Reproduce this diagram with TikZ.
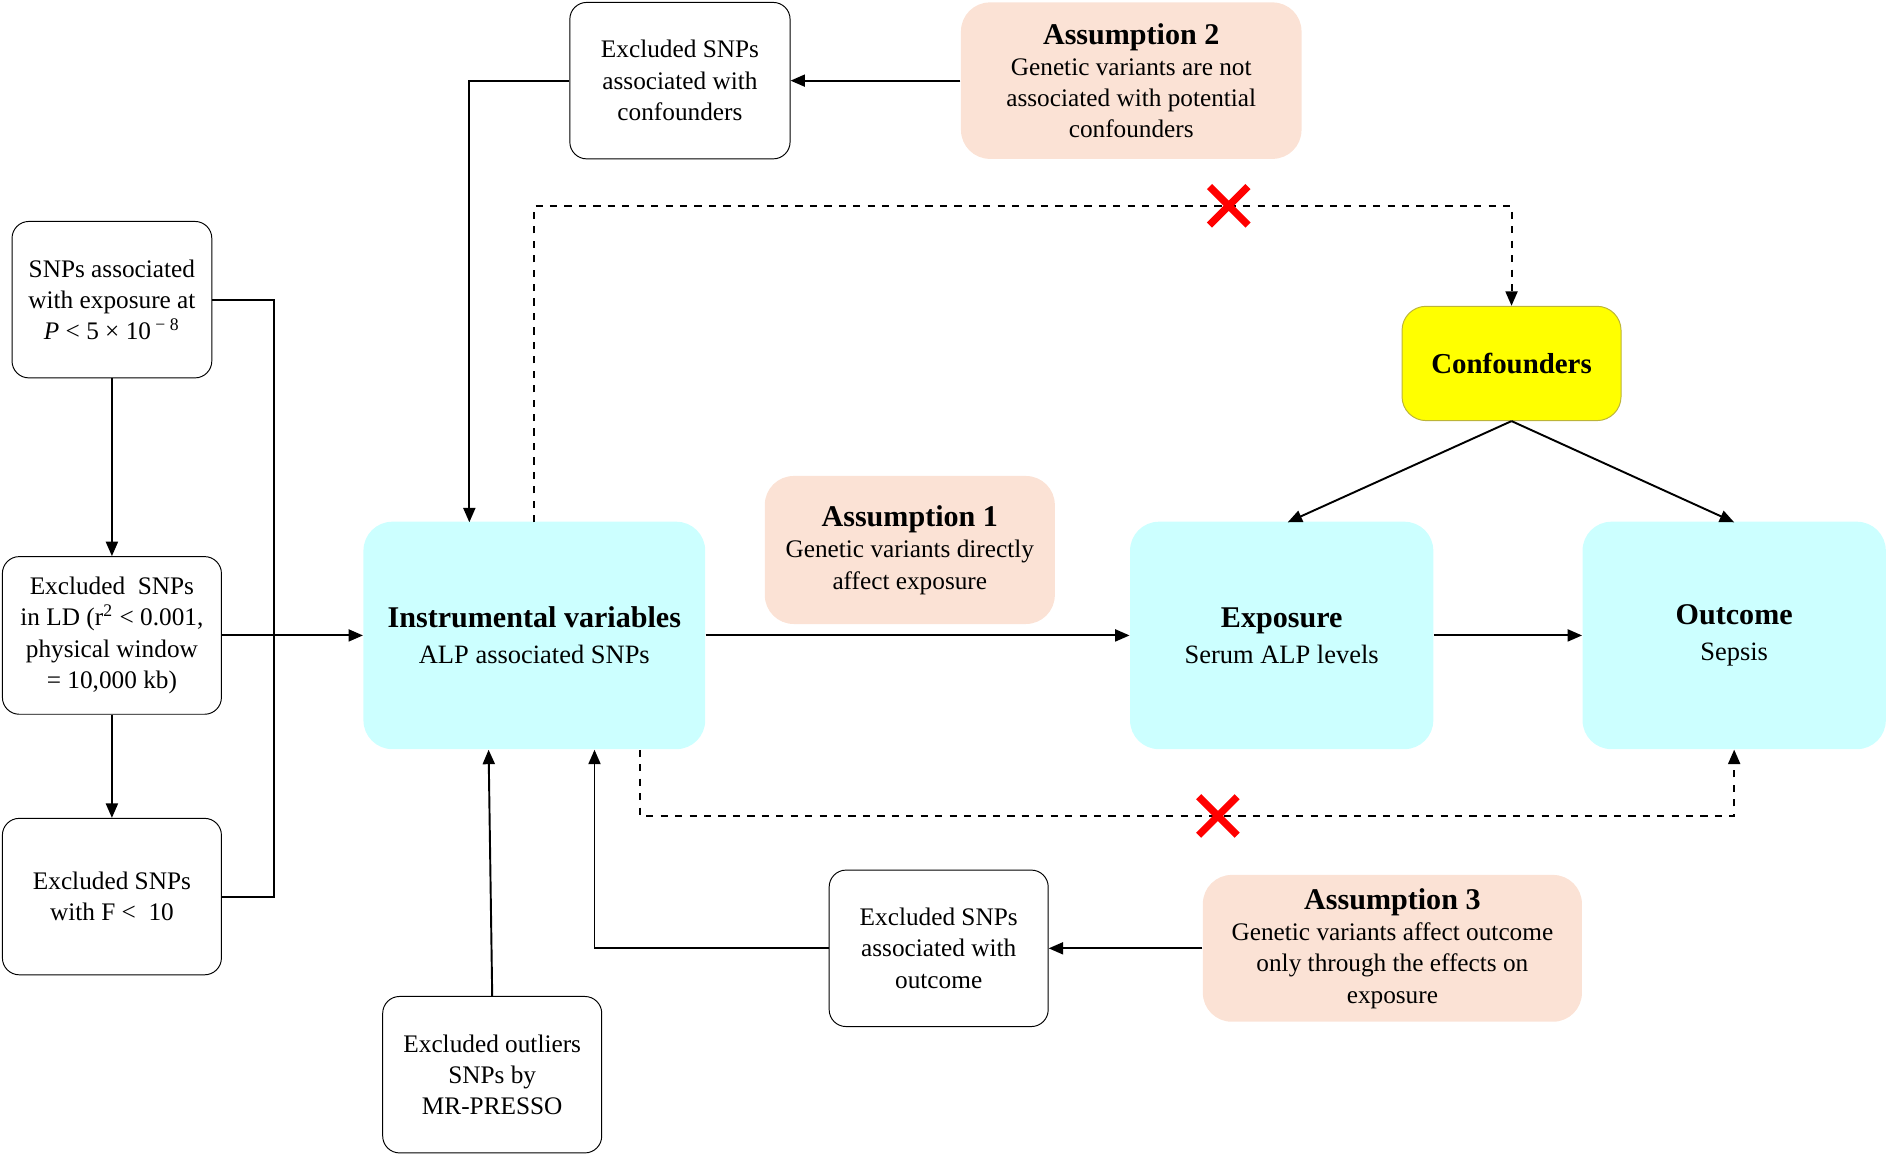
\documentclass[tikz,border=0pt]{standalone}
\usepackage{fontspec}
\setmainfont{Liberation Serif}
\usetikzlibrary{arrows.meta,calc}
\begin{document}
\begin{tikzpicture}[x=0.5pt,y=-0.5pt,
 sz/.style 2 args={minimum width=#1*0.5pt,minimum height=#2*0.5pt},
 box/.style={draw,rounded corners=7pt,align=center,inner sep=0pt,font=\fontsize{10.5}{13}\selectfont},
 wb/.style={box,fill=white},
 asm/.style={box,draw=none,fill=peach,rounded corners=12pt},
 cy/.style={box,draw=none,fill=cyanb,rounded corners=12pt,font=\fontsize{11}{15}\selectfont},
 ar/.style={-{Triangle[length=6pt,width=5pt]},line width=0.8pt},
 ln/.style={line width=0.8pt},
 ds/.style={ar,dashed}]
\definecolor{peach}{HTML}{FBE2D5}
\definecolor{cyanb}{HTML}{CCFFFF}
\definecolor{yel}{HTML}{FFFF00}
\useasboundingbox (0,0) rectangle (1568,960);
\node[wb,sz={183}{130}] (exc) at (565,67) {Excluded SNPs\\associated with\\confounders};
\node[asm,sz={283}{130}] (a2) at (940,67) {{\bfseries\fontsize{12.5}{14}\selectfont Assumption 2}\\Genetic variants are not\\associated with potential\\confounders};
\node[wb,sz={166}{130}] (s1) at (93,249) {SNPs associated\\with exposure at\\\textit{P} < 5 × 10\textsuperscript{ − 8}};
\node[wb,sz={182}{131}] (ld) at (93,528) {Excluded\ \ SNPs\\in LD (r\textsuperscript{2} < 0.001,\\physical window\\= 10,000 kb)};
\node[wb,sz={182}{130}] (f) at (93,745) {Excluded SNPs\\with F < \ 10};
\node[cy,sz={284}{189}] (iv) at (444,528) {{\bfseries\fontsize{12.5}{16}\selectfont Instrumental variables}\\ALP associated SNPs};
\node[asm,sz={241}{123}] (a1) at (756,457) {{\bfseries\fontsize{12.5}{14}\selectfont Assumption 1}\\Genetic variants directly\\affect exposure};
\node[box,draw=yellow!70!black,fill=yel,sz={182}{95},rounded corners=10pt] (cf) at (1256,302) {\bfseries\fontsize{12}{14}\selectfont Confounders};
\node[cy,sz={252}{189}] (ex) at (1065,528) {{\bfseries\fontsize{12.5}{16}\selectfont Exposure}\\Serum ALP levels};
\node[cy,sz={252}{189}] (out) at (1441,528) {{\bfseries\fontsize{12.5}{16}\selectfont Outcome}\\Sepsis};
\node[wb,sz={182}{130}] (exo) at (780,788) {Excluded SNPs\\associated with\\outcome};
\node[asm,sz={315}{122}] (a3) at (1157,788) {{\bfseries\fontsize{12.5}{14}\selectfont Assumption 3}\\Genetic variants affect outcome\\only through the effects on\\exposure};
\node[wb,sz={182}{130}] (mr) at (409,893) {Excluded outliers\\SNPs by\\MR-PRESSO};
\coordinate (x1) at (1021,171);
\coordinate (x2) at (1012,678);
\draw[ar] (a2) -- (exc);
\draw[ar] (exc.west) -| (390,434);
\draw[ds] (444,434) |- (x1) -| (cf.north);
\draw[ar] (s1) -- (ld);
\draw[ar] (ld) -- (f);
\draw[ln] (s1.east) -- (228,249) |- (f.east);
\draw[ar] (ld.east) -- (iv.west);
\draw[ar] (iv.east) -- (ex.west);
\draw[ar] (ex) -- (out);
\draw[ar] (cf.south) -- (1070,434);
\draw[ar] (cf.south) -- (1441,434);
\draw[ds] (532,623) |- (x2) -| (out.south);
\draw[ar] (exo.west) -| (494,623);
\draw[ar] (a3) -- (exo);
\draw[ar] (mr.north) -- (406,623);
\foreach \c in {x1,x2}{
 \draw[red,line width=3pt] ($(\c)+(-16,-16)$) -- ($(\c)+(16,16)$) ($(\c)+(-16,16)$) -- ($(\c)+(16,-16)$);}
\end{tikzpicture}
\end{document}
